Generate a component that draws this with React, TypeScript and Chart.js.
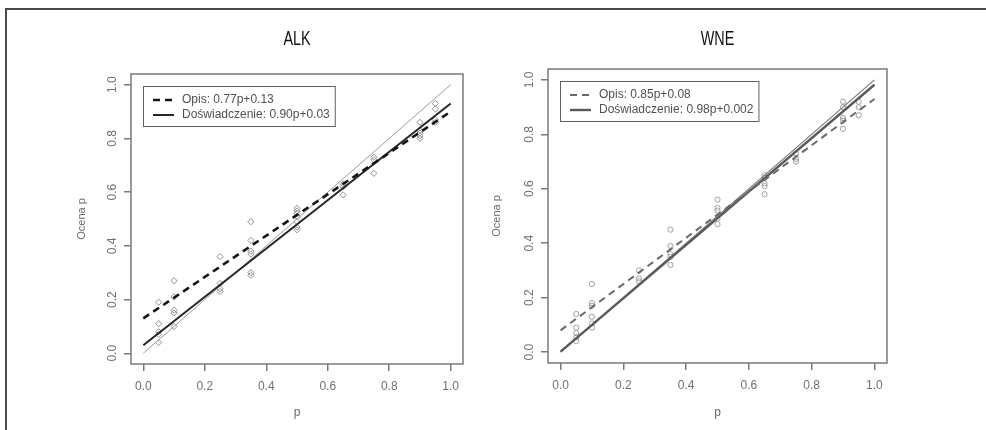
import React, { useEffect, useRef } from 'react';
import { Chart, registerables } from 'chart.js';

Chart.register(...registerables);

// ---- data ----
const P_TICKS = [0, 0.2, 0.4, 0.6, 0.8, 1.0];
const P_TICK_LABELS = ['0.0', '0.2', '0.4', '0.6', '0.8', '1.0'];
const EST_TICKS = [0, 0.2, 0.4, 0.6, 0.8, 1.0];
const EST_TICK_LABELS = ['0.0', '0.2', '0.4', '0.6', '0.8', '1.0'];
const FIT_P = [0, 1];
const IDENTITY = [0, 1];

const ALK_TITLE = 'ALK';
const ALK_P = [
  0.05, 0.05, 0.05, 0.05, 0.05,
  0.1, 0.1, 0.1, 0.1, 0.1,
  0.25, 0.25, 0.25, 0.25,
  0.35, 0.35, 0.35, 0.35, 0.35, 0.35,
  0.5, 0.5, 0.5, 0.5, 0.5, 0.5, 0.5,
  0.65, 0.65, 0.65,
  0.75, 0.75, 0.75,
  0.9, 0.9, 0.9, 0.9, 0.9,
  0.95, 0.95, 0.95, 0.95,
];
const ALK_EST = [
  0.19, 0.11, 0.08, 0.07, 0.04,
  0.27, 0.21, 0.16, 0.15, 0.1,
  0.36, 0.26, 0.24, 0.23,
  0.49, 0.42, 0.38, 0.37, 0.3, 0.29,
  0.54, 0.53, 0.52, 0.51, 0.49, 0.47, 0.46,
  0.63, 0.62, 0.59,
  0.73, 0.72, 0.67,
  0.86, 0.83, 0.82, 0.81, 0.8,
  0.93, 0.91, 0.87, 0.86,
];
const ALK_OPIS_FIT = [0.13, 0.9];
const ALK_DOSW_FIT = [0.03, 0.93];
const ALK_LEGEND = ['Opis: 0.77p+0.13', 'Doświadczenie: 0.90p+0.03'];

const WNE_TITLE = 'WNE';
const WNE_P = [
  0.05, 0.05, 0.05, 0.05, 0.05,
  0.1, 0.1, 0.1, 0.1, 0.1, 0.1,
  0.25, 0.25, 0.25,
  0.35, 0.35, 0.35, 0.35, 0.35,
  0.5, 0.5, 0.5, 0.5, 0.5,
  0.65, 0.65, 0.65, 0.65, 0.65,
  0.75, 0.75, 0.75,
  0.9, 0.9, 0.9, 0.9, 0.9,
  0.95, 0.95, 0.95,
];
const WNE_EST = [
  0.14, 0.09, 0.07, 0.055, 0.04,
  0.25, 0.18, 0.17, 0.13, 0.105, 0.09,
  0.3, 0.27, 0.26,
  0.45, 0.39, 0.36, 0.35, 0.32,
  0.56, 0.53, 0.52, 0.49, 0.47,
  0.65, 0.64, 0.62, 0.61, 0.58,
  0.73, 0.71, 0.7,
  0.92, 0.9, 0.86, 0.85, 0.82,
  0.92, 0.9, 0.87,
];
const WNE_OPIS_FIT = [0.08, 0.93];
const WNE_DOSW_FIT = [0.002, 0.982];
const WNE_LEGEND = ['Opis: 0.85p+0.08', 'Doświadczenie: 0.98p+0.002'];

const X_TITLE = 'p';
const Y_TITLE = 'Ocena p';

// ---- styling ----
const FONT = '"Liberation Sans", Arial, sans-serif';
const TITLE_FONT = '"Liberation Sans", Arial, sans-serif';

type Spec = {
  title: string;
  px: number[];
  py: number[];
  opis: number[];
  dosw: number[];
  legend: string[];
  left: number;
  width: number;
  area: { left: number; right: number; top: number; bottom: number };
  yTitleOffset: number;
  pointStyle: string;
  pointRadius: number;
  pointColor: string;
  opisStyle: { color: string; width: number; dash: number[] };
  doswStyle: { color: string; width: number };
  identStyle: { color: string; width: number };
  legendText: string;
  legendBox: string;
};

const SPECS: Spec[] = [
  {
    title: ALK_TITLE,
    px: ALK_P,
    py: ALK_EST,
    opis: ALK_OPIS_FIT,
    dosw: ALK_DOSW_FIT,
    legend: ALK_LEGEND,
    left: 0,
    width: 470,
    area: { left: 131, right: 463, top: 74, bottom: 364 },
    yTitleOffset: 82,
    pointStyle: 'rectRot',
    pointRadius: 3.1,
    pointColor: '#8f8f8f',
    opisStyle: { color: '#151515', width: 2.6, dash: [7, 5] },
    doswStyle: { color: '#262626', width: 2 },
    identStyle: { color: '#9a9a9a', width: 1 },
    legendText: '#505050',
    legendBox: '#606060',
  },
  {
    title: WNE_TITLE,
    px: WNE_P,
    py: WNE_EST,
    opis: WNE_OPIS_FIT,
    dosw: WNE_DOSW_FIT,
    legend: WNE_LEGEND,
    left: 470,
    width: 516,
    area: { left: 78, right: 417, top: 69, bottom: 363 },
    yTitleOffset: 27,
    pointStyle: 'circle',
    pointRadius: 2.6,
    pointColor: '#9f9f9f',
    opisStyle: { color: '#6a6a6a', width: 2, dash: [7, 5] },
    doswStyle: { color: '#5a5a5a', width: 2.4 },
    identStyle: { color: '#7a7a7a', width: 1.2 },
    legendText: '#505050',
    legendBox: '#606060',
  },
];

function buildConfig(s: Spec): any {
  const H = 430;
  const toPts = (xs: number[], ys: number[]) => xs.map((x, i) => ({ x, y: ys[i] }));

  const panelPlugin = {
    id: 'panelDecor',
    beforeDatasetsDraw(chart: any) {
      const { ctx, chartArea: a } = chart;
      ctx.save();
      ctx.strokeStyle = '#7a7a7a';
      ctx.lineWidth = 1.5;
      ctx.strokeRect(a.left, a.top, a.right - a.left, a.bottom - a.top);
      ctx.restore();
    },
    afterDraw(chart: any) {
      const { ctx, chartArea: a } = chart;
      const yScale = chart.scales.y;
      ctx.save();
      // main title (narrow face)
      ctx.save();
      ctx.translate((a.left + a.right) / 2, 39);
      ctx.scale(0.72, 1);
      ctx.fillStyle = '#111';
      ctx.font = `20px ${TITLE_FONT}`;
      ctx.textAlign = 'center';
      ctx.textBaseline = 'middle';
      ctx.fillText(s.title, 0, 0);
      ctx.restore();
      // y tick labels (rotated, R style)
      ctx.fillStyle = '#707070';
      ctx.font = `12px ${FONT}`;
      EST_TICKS.forEach((v, i) => {
        const y = yScale.getPixelForValue(v);
        ctx.save();
        ctx.translate(a.left - 18, y);
        ctx.rotate(-Math.PI / 2);
        ctx.textAlign = 'center';
        ctx.textBaseline = 'middle';
        ctx.fillText(EST_TICK_LABELS[i], 0, 0);
        ctx.restore();
      });
      // legend
      ctx.font = `12px ${FONT}`;
      const bx = a.left + 12;
      const by = a.top + 12;
      const textX = bx + 39;
      const maxW = Math.max(...s.legend.map((t) => ctx.measureText(t).width));
      const bw = textX - bx + maxW + 5;
      const bh = 40;
      ctx.fillStyle = '#fff';
      ctx.fillRect(bx, by, bw, bh);
      ctx.strokeStyle = s.legendBox;
      ctx.lineWidth = 1;
      ctx.strokeRect(bx + 0.5, by + 0.5, bw, bh);
      const rows = [by + 14, by + 29];
      const styles = [
        { color: s.opisStyle.color, width: s.opisStyle.width, dash: s.opisStyle.dash },
        { color: s.doswStyle.color, width: s.doswStyle.width, dash: [] as number[] },
      ];
      rows.forEach((ry, i) => {
        ctx.beginPath();
        ctx.setLineDash(styles[i].dash);
        ctx.strokeStyle = styles[i].color;
        ctx.lineWidth = styles[i].width;
        ctx.moveTo(bx + 10, ry);
        ctx.lineTo(bx + 31, ry);
        ctx.stroke();
        ctx.setLineDash([]);
        ctx.fillStyle = s.legendText;
        ctx.textAlign = 'left';
        ctx.textBaseline = 'middle';
        ctx.fillText(s.legend[i], textX, ry);
      });
      ctx.restore();
    },
  };

  return {
    type: 'scatter',
    data: {
      datasets: [
        {
          type: 'line',
          label: 'Opis',
          data: toPts(FIT_P, s.opis),
          borderColor: s.opisStyle.color,
          borderWidth: s.opisStyle.width,
          borderDash: s.opisStyle.dash,
          pointRadius: 0,
          fill: false,
          order: 1,
        },
        {
          type: 'line',
          label: 'Doświadczenie',
          data: toPts(FIT_P, s.dosw),
          borderColor: s.doswStyle.color,
          borderWidth: s.doswStyle.width,
          pointRadius: 0,
          fill: false,
          order: 2,
        },
        {
          type: 'line',
          label: 'y=p',
          data: toPts(FIT_P, IDENTITY),
          borderColor: s.identStyle.color,
          borderWidth: s.identStyle.width,
          pointRadius: 0,
          fill: false,
          order: 3,
        },
        {
          type: 'scatter',
          label: 'oceny',
          data: toPts(s.px, s.py),
          pointStyle: s.pointStyle,
          pointRadius: s.pointRadius,
          borderColor: s.pointColor,
          borderWidth: 1,
          backgroundColor: 'rgba(0,0,0,0)',
          order: 5,
        },
      ],
    },
    options: {
      animation: false,
      responsive: false,
      devicePixelRatio: 1,
      events: [],
      layout: { padding: { left: 0, top: s.area.top, right: s.width - s.area.right, bottom: 0 } },
      plugins: { legend: { display: false }, tooltip: { enabled: false }, title: { display: false } },
      scales: {
        x: {
          type: 'linear',
          min: -0.04,
          max: 1.04,
          afterBuildTicks: (sc: any) => {
            sc.ticks = P_TICKS.map((v) => ({ value: v }));
          },
          afterFit: (sc: any) => {
            sc.height = H - s.area.bottom;
          },
          border: { display: false },
          grid: {
            drawOnChartArea: false,
            drawTicks: true,
            tickLength: 7,
            color: '#7a7a7a',
            lineWidth: 1.5,
          },
          ticks: {
            padding: 8,
            color: '#707070',
            font: { family: FONT, size: 12 },
            maxRotation: 0,
            callback: (v: number) => {
              const i = P_TICKS.findIndex((t) => Math.abs(t - v) < 1e-9);
              return i >= 0 ? P_TICK_LABELS[i] : '';
            },
          },
          title: {
            display: true,
            text: X_TITLE,
            color: '#6a6a6a',
            font: { family: FONT, size: 12 },
            padding: { top: 0, bottom: 10 },
          },
        },
        y: {
          type: 'linear',
          min: -0.04,
          max: 1.04,
          afterBuildTicks: (sc: any) => {
            sc.ticks = EST_TICKS.map((v) => ({ value: v }));
          },
          afterFit: (sc: any) => {
            sc.width = s.area.left;
          },
          border: { display: false },
          grid: {
            drawOnChartArea: false,
            drawTicks: true,
            tickLength: 7,
            color: '#7a7a7a',
            lineWidth: 1.5,
          },
          ticks: { display: false },
          title: {
            display: true,
            text: Y_TITLE,
            color: '#6a6a6a',
            font: { family: FONT, size: 11 },
            padding: { top: s.yTitleOffset - 6.6, bottom: 0 },
          },
        },
      },
    },
    plugins: [panelPlugin],
  };
}

function Panel({ spec }: { spec: Spec }) {
  const ref = useRef<HTMLCanvasElement>(null);
  useEffect(() => {
    const chart = new Chart(ref.current as HTMLCanvasElement, buildConfig(spec));
    return () => chart.destroy();
  }, [spec]);
  return (
    <canvas
      ref={ref}
      width={spec.width}
      height={430}
      style={{ position: 'absolute', left: spec.left, top: 0, width: spec.width, height: 430 }}
    />
  );
}

export default function App() {
  return (
    <div
      style={{
        position: 'absolute',
        left: 0,
        top: 0,
        width: 986,
        height: 430,
        background: '#fff',
        overflow: 'hidden',
      }}
    >
      <div
        style={{
          position: 'absolute',
          left: 5,
          top: 8,
          width: 990,
          height: 430,
          borderTop: '2px solid #4a4a4a',
          borderLeft: '2px solid #4a4a4a',
        }}
      />
      {SPECS.map((s) => (
        <Panel key={s.title} spec={s} />
      ))}
    </div>
  );
}
